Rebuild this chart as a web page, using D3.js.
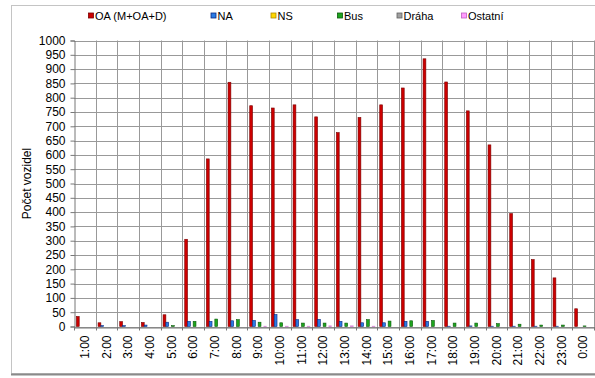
<!DOCTYPE html>
<html>
<head>
<meta charset="utf-8">
<script src="https://cdn.jsdelivr.net/npm/d3@7"></script>
<style>
  body { margin: 0; background: #fff; }
  text { font-family: "Liberation Sans", Arial, sans-serif; fill: #000; }
</style>
</head>
<body>
<div class="svg-container"></div>
<script>
// categories
var hours = ['1:00','2:00','3:00','4:00','5:00','6:00','7:00','8:00','9:00','10:00','11:00','12:00',
  '13:00','14:00','15:00','16:00','17:00','18:00','19:00','20:00','21:00','22:00','23:00','0:00'];

// series values (vehicles per hour)
var oa      = [35,13,17,14,41,305,586,854,772,764,775,733,678,731,775,834,936,855,754,635,395,234,170,62];
var na      = [0,3,3,5,15,18,18,20,21,42,24,25,18,13,13,18,18,1,2,1,1,1,1,0];
var ns      = [0,0,0,0,0,0,0,0,0,0,0,0,0,0,0,0,0,0,0,0,0,0,0,0];
var bus     = [0,0,0,0,3,18,26,24,15,13,12,12,12,24,19,20,21,12,12,10,8,5,5,2];
var draha   = [0,0,0,0,0,0,0,0,0,0,0,0,0,0,0,0,0,0,0,0,0,0,0,0];
var ostatni = [0,0,0,0,0,0,0,0,1,1,1,2,2,1,0,0,0,0,0,0,0,0,0,0];

var seriesNames = ['OA (M+OA+D)', 'NA', 'NS', 'Bus', 'Dráha', 'Ostatní'];
var seriesData = [oa, na, ns, bus, draha, ostatni];
var yTicks = d3.range(0, 1001, 50);

var fills   = ['#cc0000', '#2a7be4', '#ffd700', '#1ea51e', '#a0a0a0', '#ff9cff'];
var strokes = ['#7a0000', '#0a2a80', '#b08a00', '#0a5a0a', '#606060', '#c060c0'];
var legendX = [88, 210.5, 270.5, 337, 396.5, 461];

var W = 595, H = 378;
var m = { left: 74, right: 594, top: 40.5, bottom: 326.5 };

var svg = d3.select('.svg-container').append('svg')
  .attr('width', W)
  .attr('height', H);

// chart frame
svg.append('rect')
  .attr('x', 11.5).attr('y', 5.5)
  .attr('width', 600).attr('height', 368)
  .style('fill', '#fff')
  .style('stroke', '#c4c4c4');
svg.append('line')
  .attr('x1', 11).attr('x2', W)
  .attr('y1', 374.5).attr('y2', 374.5)
  .style('stroke', '#8a8a8a').style('stroke-width', 2);

var x0 = d3.scaleBand()
  .domain(hours)
  .range([m.left, m.right])
  .paddingInner(0).paddingOuter(0);

var x1 = d3.scaleBand()
  .domain(d3.range(seriesNames.length))
  .range([0, x0.bandwidth()])
  .paddingInner(0).paddingOuter(0.85);

var y = d3.scaleLinear()
  .domain([0, 1000])
  .range([m.bottom, m.top]);

// gridlines
svg.append('g').selectAll('line.h')
  .data(yTicks)
  .enter().append('line')
  .attr('x1', m.left).attr('x2', m.right)
  .attr('y1', function(d) { return Math.round(y(d)) + 0.5; })
  .attr('y2', function(d) { return Math.round(y(d)) + 0.5; })
  .style('stroke', '#999').style('stroke-width', 1);

svg.append('g').selectAll('line.v')
  .data(hours)
  .enter().append('line')
  .attr('x1', function(d) { return Math.round(x0(d) + x0.bandwidth()) + 0.5; })
  .attr('x2', function(d) { return Math.round(x0(d) + x0.bandwidth()) + 0.5; })
  .attr('y1', m.top).attr('y2', m.bottom)
  .style('stroke', '#999').style('stroke-width', 1);

// y axis
var yAxis = svg.append('g')
  .attr('transform', 'translate(' + (Math.round(m.left) + 0.5) + ',0)')
  .call(d3.axisLeft(y).tickValues(yTicks).tickSize(4).tickPadding(5).tickFormat(d3.format('d')));
yAxis.select('.domain').style('stroke', '#777');
yAxis.selectAll('.tick line').style('stroke', '#777');
yAxis.selectAll('text').style('font-size', '12px').style('font-family', '"Liberation Sans", Arial, sans-serif').style('fill', '#000');

// x axis
var xAxis = svg.append('g')
  .attr('transform', 'translate(0,' + (Math.round(m.bottom) + 0.5) + ')')
  .call(d3.axisBottom(x0).tickSize(0).tickPadding(0));
xAxis.select('.domain').style('stroke', '#777');
xAxis.selectAll('.tick text')
  .style('font-size', '12px')
  .style('font-family', '"Liberation Sans", Arial, sans-serif')
  .style('fill', '#000')
  .attr('transform', 'rotate(-90)')
  .attr('dy', '0.35em')
  .attr('x', -8)
  .attr('y', 0)
  .style('text-anchor', 'end');

// tick marks at category boundaries
svg.append('g').selectAll('line')
  .data([m.left].concat(hours.map(function(d) { return x0(d) + x0.bandwidth(); })))
  .enter().append('line')
  .attr('x1', function(d) { return Math.round(d) + 0.5; })
  .attr('x2', function(d) { return Math.round(d) + 0.5; })
  .attr('y1', m.bottom).attr('y2', m.bottom + 4)
  .style('stroke', '#777');

// bars
seriesData.forEach(function(values, si) {
  var rows = values.map(function(v, i) { return { hour: hours[i], value: v }; })
    .filter(function(d) { return d.value > 0; });

  svg.append('g').selectAll('rect')
    .data(rows)
    .enter()
    .append('rect')
    .attr('x', function(d) { return x0(d.hour) + x1(si); })
    .attr('y', function(d) { return y(d.value); })
    .attr('width', x1.bandwidth())
    .attr('height', function(d) { return m.bottom - y(d.value); })
    .style('fill', fills[si])
    .style('stroke', strokes[si])
    .style('stroke-width', 0.6);
});

// y axis title
svg.append('text')
  .attr('transform', 'translate(31,' + ((m.top + m.bottom) / 2) + ') rotate(-90)')
  .style('text-anchor', 'middle')
  .style('font-size', '12px')
  .text('Počet vozidel');

// legend
var legend = svg.append('g').selectAll('g')
  .data(seriesNames)
  .enter().append('g')
  .attr('transform', function(d, i) { return 'translate(' + legendX[i] + ',16)'; });

legend.append('rect')
  .attr('x', 0.5).attr('y', -3)
  .attr('width', 5).attr('height', 5)
  .style('fill', function(d, i) { return fills[i]; })
  .style('stroke', function(d, i) { return strokes[i]; })
  .style('stroke-width', 0.8);

legend.append('text')
  .attr('x', 7)
  .attr('y', 0)
  .attr('dy', '0.35em')
  .style('font-size', '11px')
  .text(function(d) { return d; });
</script>
</body>
</html>
